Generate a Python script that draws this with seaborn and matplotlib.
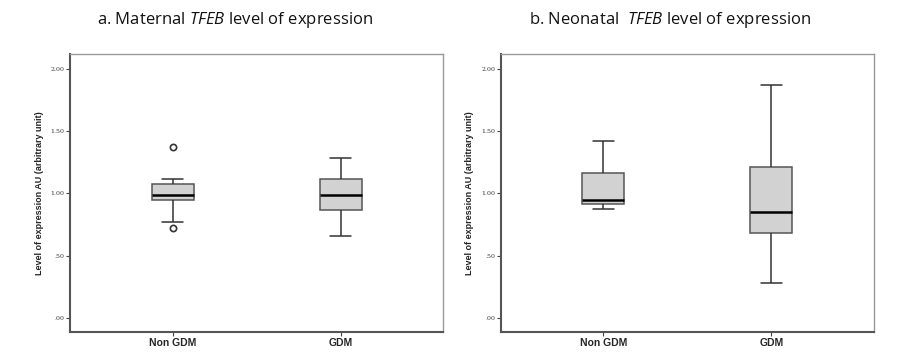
import matplotlib
matplotlib.use("Agg")
import matplotlib.pyplot as plt
import seaborn as sns
import pandas as pd

# Groups and values (points chosen to reproduce
# the quartiles, whiskers and outliers of each box)
groups = ["Non GDM", "GDM"]
maternal_non_gdm = [0.72, 0.774, 0.945, 0.96, 0.985, 1.03, 1.074, 1.119, 1.371]
maternal_gdm = [0.656, 0.867, 0.988, 1.114, 1.285]
neonatal_non_gdm = [0.876, 0.913, 0.950, 1.165, 1.424]
neonatal_gdm = [0.281, 0.680, 0.854, 1.213, 1.874]

y_ticks = [0.0, 0.5, 1.0, 1.5, 2.0]
y_tick_labels = [".00", ".50", "1.00", "1.50", "2.00"]
titles = [r"a. Maternal $\it{TFEB}$ level of expression",
          r"b. Neonatal  $\it{TFEB}$ level of expression"]
y_label = "Level of expression AU (arbitrary unit)"


def make_frame(non_gdm, gdm):
    return pd.DataFrame({
        "group": [groups[0]] * len(non_gdm) + [groups[1]] * len(gdm),
        "value": non_gdm + gdm,
    })


sns.set_style("white")
plt.rcParams["mathtext.fontset"] = "custom"
plt.rcParams["mathtext.rm"] = "Open Sans"
plt.rcParams["mathtext.it"] = "Open Sans:italic"

fig = plt.figure(figsize=(9.19, 3.56), dpi=100)
ax_a = fig.add_axes([0.0762, 0.0674, 0.406, 0.781])
ax_b = fig.add_axes([0.5448, 0.0674, 0.406, 0.781])

frames = [make_frame(maternal_non_gdm, maternal_gdm),
          make_frame(neonatal_non_gdm, neonatal_gdm)]

for ax, df, title, tx in zip([ax_a, ax_b], frames, titles, [0.256, 0.729]):
    sns.boxplot(data=df, x="group", y="value", order=groups, ax=ax,
                color="#d2d2d2", width=0.25, linewidth=1.1, linecolor="#333333",
                fliersize=4.5,
                medianprops={"color": "black", "linewidth": 1.8},
                boxprops={"edgecolor": "#555555"},
                flierprops={"marker": "o", "markerfacecolor": "white",
                            "markeredgecolor": "#333333", "markeredgewidth": 1.2})
    ax.set_xlim(-0.61, 1.61)
    ax.set_ylim(-0.112, 2.12)
    ax.set_yticks(y_ticks)
    ax.set_yticklabels(y_tick_labels, fontsize=4.5, family="DejaVu Serif", color="#333333")
    ax.set_xlabel("")
    ax.set_ylabel(y_label, fontsize=6.5, fontweight="bold", family="Liberation Sans",
                  labelpad=5)
    for lab in ax.get_xticklabels():
        lab.set_fontsize(7.5)
        lab.set_fontweight("bold")
        lab.set_family("Liberation Sans")
    ax.tick_params(axis="both", which="both", direction="out", length=3, width=0.8,
                   color="#444444", left=True, bottom=True, pad=1)
    for side in ["top", "right"]:
        ax.spines[side].set_color("#999999")
        ax.spines[side].set_linewidth(1.0)
    for side in ["left", "bottom"]:
        ax.spines[side].set_color("#555555")
        ax.spines[side].set_linewidth(1.5)
    fig.text(tx, 0.945, title, ha="center", va="center", fontsize=12,
             family="Open Sans", color="#111111")

fig.savefig("out.png", dpi=100)
